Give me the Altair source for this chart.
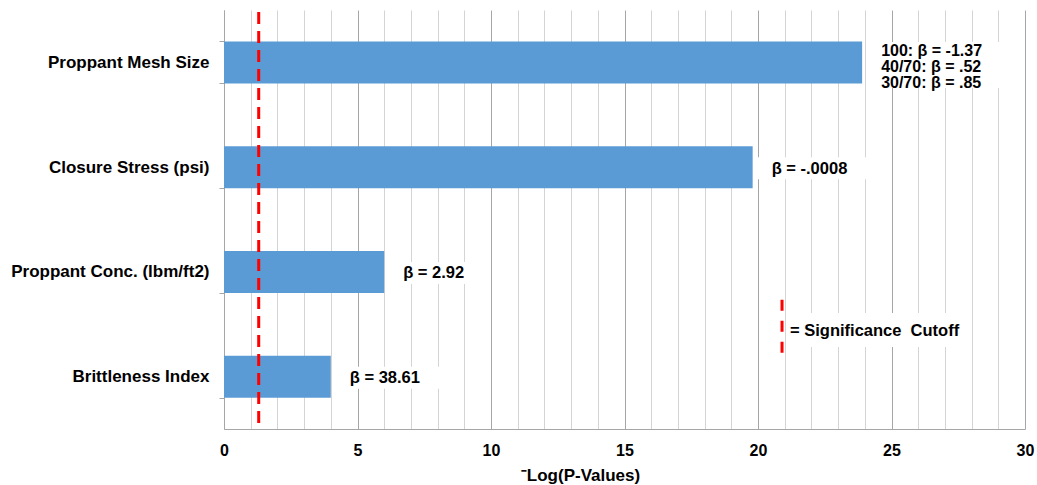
import altair as alt
import pandas as pd

# Predictors and their significance, -log10(p)
factors = [
    "Proppant Mesh Size",
    "Closure Stress (psi)",
    "Proppant Conc. (lbm/ft2)",
    "Brittleness Index",
]
neg_log_p = [23.9, 19.8, 6.0, 4.0]
beta_labels = [
    ["100: β = -1.37", "40/70: β = .52", "30/70: β = .85"],
    ["β = -.0008"],
    ["β = 2.92"],
    ["β = 38.61"],
]
cutoff_value = 1.3          # -log10(0.05)
legend_x = 20.9
legend_label = "= Significance\u00a0 Cutoff"
x_tick_values = list(range(0, 31))

# white label backdrops: extent past the bar end, in axis units
box_start_gap = 0.2
box_extent = [5.2, 4.25, 3.2, 4.1]

FONT = "Liberation Sans"
BLUE = "#5B9BD5"
RED = "#FF0000"

bars_df = pd.DataFrame({"factor": factors, "value": neg_log_p, "beta": beta_labels})
bars_df["box_start"] = bars_df["value"] + box_start_gap
bars_df["box_end"] = bars_df["value"] + pd.Series(box_extent)

cutoff_df = pd.DataFrame({"value": [cutoff_value]})
legend_df = pd.DataFrame({
    "factor": ["Brittleness Index"],
    "value": [legend_x],
    "box_start": [legend_x + 0.2],
    "box_end": [legend_x + 6.9],
    "label": [legend_label],
})

y_axis = alt.Axis(
    tickBand="extent",
    tickSize=5,
    tickColor="#a6a6a6",
    domainColor="#a6a6a6",
    labelFont=FONT,
    labelFontSize=17,
    labelFontWeight="bold",
    labelColor="#000000",
    labelPadding=10,
    labelLimit=400,
    grid=False,
    title=None,
)
y_scale = alt.Scale(paddingInner=0.6, paddingOuter=0.3)


def y_enc():
    return alt.Y("factor:N", sort=factors, title=None, scale=y_scale, axis=y_axis)


x_scale = alt.Scale(domain=[0, 30], nice=False, zero=True)

x_axis = alt.Axis(
    values=x_tick_values,
    labelExpr="datum.value % 5 === 0 ? datum.label : ''",
    ticks=False,
    grid=True,
    gridColor=alt.condition("datum.value % 5 === 0", alt.value("#a6a6a6"), alt.value("#d4d4d4")),
    gridWidth=1,
    domainColor="#a6a6a6",
    labelFont=FONT,
    labelFontSize=16,
    labelFontWeight="bold",
    labelColor="#000000",
    labelPadding=13,
    labelFlush=False,
    title="⁻Log(P-Values)",
    titleFont=FONT,
    titleFontSize=17,
    titleFontWeight="bold",
    titleColor="#000000",
    titleX=356,
    titleY=38,
    titleBaseline="top",
)


def x_enc(field):
    return alt.X(field, scale=x_scale, axis=x_axis, title="⁻Log(P-Values)")


base = alt.Chart(bars_df)

bars = base.mark_bar(color=BLUE, size=42).encode(
    x=x_enc("value:Q"),
    y=y_enc(),
)

mesh_box = base.transform_filter(alt.datum.factor == factors[0]).mark_bar(
    color="white", size=46, yOffset=2.6
).encode(
    x=x_enc("box_start:Q"),
    x2="box_end:Q",
    y=y_enc(),
)

other_box = base.transform_filter(alt.datum.factor != factors[0]).mark_bar(
    color="white", size=22, yOffset=1
).encode(
    x=x_enc("box_start:Q"),
    x2="box_end:Q",
    y=y_enc(),
)

mesh_text = base.transform_filter(alt.datum.factor == factors[0]).mark_text(
    align="left", baseline="middle", dx=19, dy=-11,
    font=FONT, fontSize=16, fontWeight="bold", color="#000000", lineHeight=16,
).encode(
    x=x_enc("value:Q"),
    y=y_enc(),
    text="beta",
)

other_text = base.transform_filter(alt.datum.factor != factors[0]).mark_text(
    align="left", baseline="middle", dx=19, dy=1.5,
    font=FONT, fontSize=16.5, fontWeight="bold", color="#000000",
).encode(
    x=x_enc("value:Q"),
    y=y_enc(),
    text="beta",
)

cutoff_rule = alt.Chart(cutoff_df).mark_rule(
    color=RED, strokeWidth=3, strokeDash=[12, 7]
).encode(
    x=x_enc("value:Q"),
    y=alt.value(2),
    y2=alt.value(419),
)

legend_base = alt.Chart(legend_df)

legend_box = legend_base.mark_bar(color="white", size=34, yOffset=-46.6).encode(
    x=x_enc("box_start:Q"),
    x2="box_end:Q",
    y=y_enc(),
)

legend_rule = legend_base.mark_rule(
    color=RED, strokeWidth=3, strokeDash=[11, 10], yOffset=-77, y2Offset=-22
).encode(
    x=x_enc("value:Q"),
    y=y_enc(),
    y2="factor:N",
)

legend_text = legend_base.mark_text(
    align="left", baseline="middle", dx=8, dy=-45.6,
    font=FONT, fontSize=16.5, fontWeight="bold", color="#000000",
).encode(
    x=x_enc("value:Q"),
    y=y_enc(),
    text="label",
)

chart = alt.layer(
    bars, mesh_box, other_box, mesh_text, other_text,
    cutoff_rule, legend_box, legend_rule, legend_text,
).properties(
    width=801,
    height=419,
    autosize=alt.AutoSizeParams(type="none"),
    padding={"left": 224, "top": 10, "right": 12, "bottom": 56},
    background="white",
).configure_view(stroke=None)

chart.save("out.html", embed_options={"renderer": "svg", "actions": False})
